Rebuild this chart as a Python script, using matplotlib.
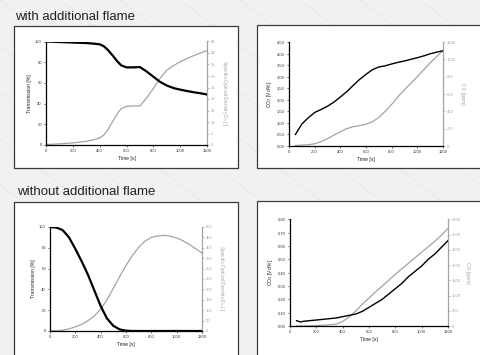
import matplotlib
matplotlib.use("Agg")
import matplotlib.pyplot as plt
from matplotlib.patches import Rectangle
from matplotlib.lines import Line2D

plt.rcParams["font.family"] = ["Liberation Sans", "DejaVu Sans"]

# --- with additional flame: transmission / specific optical density ---
t_tl = [0, 100, 200, 300, 350, 400, 430, 460, 500, 530, 560, 600, 650, 700,
        750, 800, 850, 900, 950, 1000, 1050, 1100, 1150, 1200]
trans_tl = [100, 99.5, 99, 98.5, 98, 97.3, 95.5, 92, 86, 81, 77, 75, 75, 75.3,
            71, 66, 61, 57.5, 55, 53.5, 52.2, 51, 50, 48.8]
ds_tl = [0.2, 0.5, 0.9, 1.6, 2.2, 3.0, 4.3, 6.5, 10.5, 13.5, 15.8, 16.8, 17.0, 17.0,
         20.5, 24.5, 29.0, 32.5, 34.5, 36.2, 37.6, 38.8, 40.0, 41.0]

# --- with additional flame: CO2 / CO ---
t_tr = [50, 100, 150, 200, 250, 300, 350, 400, 450, 500, 550, 600, 650, 700,
        750, 800, 850, 900, 950, 1000, 1050, 1100, 1150, 1200]
co2_tr = [0.5, 0.95, 1.22, 1.45, 1.58, 1.72, 1.9, 2.12, 2.35, 2.62, 2.88, 3.1, 3.3, 3.42,
          3.47, 3.55, 3.62, 3.68, 3.75, 3.82, 3.9, 3.99, 4.06, 4.12]
co_tr = [5, 10, 15, 25, 50, 85, 125, 165, 200, 222, 235, 250, 280, 330,
         400, 480, 570, 650, 725, 800, 880, 960, 1030, 1100]

# --- without additional flame: transmission / specific optical density ---
t_bl = [0, 50, 100, 150, 200, 250, 300, 350, 400, 450, 500, 550, 600, 650, 700,
        750, 800, 850, 900, 950, 1000, 1050, 1100, 1150, 1200]
trans_bl = [100, 99.5, 97, 90, 79, 67, 54, 39, 24, 12, 5, 1.5, 0.3, 0, 0,
            0, 0, 0, 0, 0, 0, 0, 0, 0, 0]
ds_bl = [0, 1, 4, 10, 20, 32, 50, 72, 105, 150, 205, 262, 315, 362, 402,
         432, 450, 457, 460, 456, 447, 434, 416, 396, 375]

# --- without additional flame: CO2 / CO ---
t_br = [50, 80, 100, 150, 200, 250, 300, 350, 400, 450, 500, 550, 600, 650, 700,
        750, 800, 850, 900, 950, 1000, 1050, 1100, 1150, 1200]
co2_br = [0.04, 0.03, 0.035, 0.04, 0.045, 0.05, 0.055, 0.06, 0.07, 0.08, 0.09, 0.11, 0.14,
          0.17, 0.2, 0.24, 0.28, 0.32, 0.37, 0.41, 0.45, 0.5, 0.54, 0.59, 0.64]
co_br = [0, 0, 2, 5, 15, 25, 40, 60, 150, 300, 500, 720, 920, 1120, 1310,
         1500, 1700, 1880, 2060, 2240, 2420, 2600, 2780, 2980, 3200]

time_ticks = [0, 200, 400, 600, 800, 1000, 1200]

BG = "#f0f1f2"
GRAY = "#a3a3a3"
W, H = 481, 355

fig = plt.figure(figsize=(W / 100, H / 100), dpi=100, facecolor=BG)

# faint diagonal background strokes
for k in range(-6, 14):
    x0 = k * 60
    fig.add_artist(Line2D([x0 / W, (x0 + 260) / W], [1, 1 - 200 / H],
                          color="#e6e7e9", lw=0.6, zorder=-5))


def box(x0, y0, x1, y1):
    fig.add_artist(Rectangle((x0 / W, 1 - y1 / H), (x1 - x0) / W, (y1 - y0) / H,
                             transform=fig.transFigure, facecolor="white",
                             edgecolor="#3a3a3a", lw=0.9, zorder=-1))


box(14, 26, 238, 168)
box(257, 25, 484, 168)
box(14, 202, 238, 360)
box(257, 201, 484, 360)

fig.text(15 / W, 1 - 20 / H, "with additional flame", fontsize=9.5, color="#222222", va="baseline")
fig.text(17 / W, 1 - 195 / H, "without additional flame", fontsize=9.5, color="#222222", va="baseline")


def axpos(l, t, r, b):
    return [l / W, 1 - b / H, (r - l) / W, (b - t) / H]


def fmt(vals, dec):
    if dec == 0:
        return [str(v) for v in vals]
    return [f"{v:.{dec}f}".replace(".", ",") for v in vals]


def make(pos, x, y1, y2, ylim, yticks, ydec, rlim, rticks, ylabel, rlabel, lw1):
    ax = fig.add_axes(axpos(*pos))
    ax.plot(x, y1, color="black", lw=lw1, zorder=3)
    ax.set_xlim(0, 1200)
    ax.set_ylim(*ylim)
    ax.set_xticks(time_ticks)
    ax.set_xticklabels([str(v) for v in time_ticks])
    ax.set_yticks(yticks)
    ax.set_yticklabels(fmt(yticks, ydec))
    ax.tick_params(labelsize=3, length=1.5, width=0.5, pad=1.5, colors="#333333")
    ax.set_xlabel("Time [s]", fontsize=3.6, labelpad=2, color="#222222")
    ax.set_ylabel(ylabel, fontsize=3.6, labelpad=2, color="#222222")
    for s in ["top", "right"]:
        ax.spines[s].set_visible(False)
    ax.spines["left"].set_linewidth(0.9)
    ax.spines["bottom"].set_linewidth(0.9)

    ax2 = ax.twinx()
    ax2.plot(x, y2, color=GRAY, lw=0.9, zorder=2)
    ax2.set_ylim(*rlim)
    ax2.set_yticks(rticks)
    ax2.set_yticklabels([str(v) for v in rticks])
    ax2.tick_params(labelsize=3, length=1.5, width=0.5, pad=1.5, colors=GRAY)
    ax2.set_ylabel(rlabel, fontsize=3.6, labelpad=3, color=GRAY, rotation=270, va="bottom")
    for s in ["top", "left", "bottom"]:
        ax2.spines[s].set_visible(False)
    ax2.spines["right"].set_color(GRAY)
    ax2.spines["right"].set_linewidth(0.9)
    ax2.patch.set_visible(False)
    ax.patch.set_visible(False)
    ax2.set_zorder(1)
    ax.set_zorder(2)
    return ax, ax2


make((46, 41.5, 207, 145), t_tl, trans_tl, ds_tl, (0, 100), list(range(0, 101, 20)), 0,
     (0, 45), list(range(0, 46, 5)), "Transmission [%]",
     "Specific Optical Density D$_s$ [-]", 1.6)

make((289, 42, 443, 146), t_tr, co2_tr, co_tr, (0, 4.5),
     [0, 0.5, 1, 1.5, 2, 2.5, 3, 3.5, 4, 4.5], 2,
     (0, 1200), list(range(0, 1201, 200)), "CO$_2$ [Vol%]", "CO [ppm]", 1.0)

make((50, 227, 202, 331), t_bl, trans_bl, ds_bl, (0, 100), list(range(0, 101, 20)), 0,
     (0, 500), list(range(0, 501, 50)), "Transmission [%]",
     "Specific Optical Density D$_s$ [-]", 1.6)

make((290, 219.3, 448, 326), t_br, co2_br, co_br, (0, 0.8),
     [0, 0.1, 0.2, 0.3, 0.4, 0.5, 0.6, 0.7, 0.8], 2,
     (0, 3500), list(range(0, 3501, 500)), "CO$_2$ [Vol%]", "CO [ppm]", 1.0)

fig.savefig("out.png", dpi=100, facecolor=BG)
